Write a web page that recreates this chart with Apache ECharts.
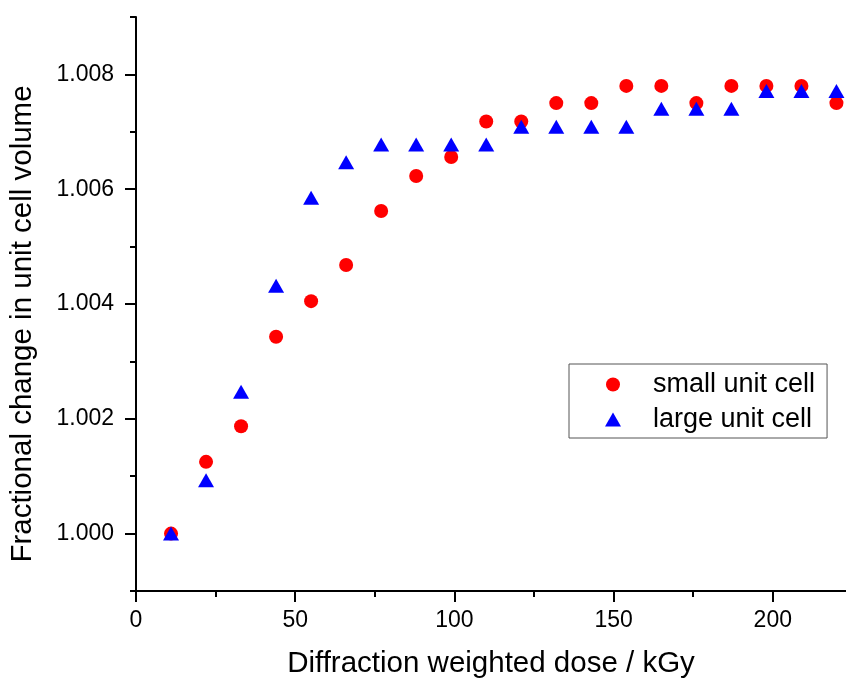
<!DOCTYPE html>
<html>
<head>
<meta charset="utf-8">
<script src="https://cdn.jsdelivr.net/npm/echarts@6/dist/echarts.min.js"></script>
<style>
  html, body { margin: 0; padding: 0; background: #fff; }
  #chart { width: 846px; height: 684px; }
</style>
</head>
<body>
<div id="chart"></div>
<script>
// Diffraction weighted dose (kGy) for each data set
const dose = [11, 22, 33, 44, 55, 66, 77, 88, 99, 110, 121, 132, 143, 154, 165, 176, 187, 198, 209, 220];

// Fractional change in unit cell volume
const smallCell = [1.0000, 1.00125, 1.00187, 1.00343, 1.00405, 1.00468, 1.00562, 1.00623, 1.00656, 1.00718,
                   1.00718, 1.00750, 1.00750, 1.00780, 1.00780, 1.00750, 1.00780, 1.00780, 1.00780, 1.00750];
const largeCell = [1.0000, 1.00093, 1.00247, 1.00432, 1.00585, 1.00647, 1.00678, 1.00678, 1.00678, 1.00678,
                   1.00709, 1.00709, 1.00709, 1.00709, 1.00740, 1.00740, 1.00740, 1.00771, 1.00771, 1.00771];

// Axis ticks
const xMajorTicks = [0, 50, 100, 150, 200];
const xMinorTicks = [25, 75, 125, 175];
const yMajorTicks = [1.000, 1.002, 1.004, 1.006, 1.008];
const yMinorTicks = [0.999, 1.001, 1.003, 1.005, 1.007, 1.009];

const FONT = 'Arial, "Liberation Sans", sans-serif';
const xRange = [0, 223];
const yRange = [0.999, 1.009];

const chart = echarts.init(document.getElementById('chart'), null, { renderer: 'canvas' });

const pair = (xs, ys) => xs.map((x, i) => [x, ys[i]]);

const axisLineStyle = { color: '#000', width: 2 };

chart.setOption({
  backgroundColor: '#fff',
  animation: false,
  grid: { left: 135, right: 0, top: 17, bottom: 90, containLabel: false },
  xAxis: [
    {
      type: 'value', min: xRange[0], max: xRange[1],
      name: 'Diffraction weighted dose / kGy',
      nameLocation: 'middle', nameGap: 58,
      nameTextStyle: { fontFamily: FONT, fontSize: 29.5, color: '#000' },
      axisLine: { show: true, onZero: false, lineStyle: axisLineStyle },
      axisTick: { show: true, inside: false, length: 11, lineStyle: axisLineStyle, customValues: xMajorTicks },
      axisLabel: { show: true, margin: 18, fontFamily: FONT, fontSize: 23, color: '#000', customValues: xMajorTicks },
      splitLine: { show: false }
    },
    {
      type: 'value', min: xRange[0], max: xRange[1], position: 'bottom',
      axisLine: { show: false },
      axisTick: { show: true, inside: false, length: 6, lineStyle: axisLineStyle, customValues: xMinorTicks },
      axisLabel: { show: false },
      splitLine: { show: false }
    }
  ],
  yAxis: [
    {
      type: 'value', min: yRange[0], max: yRange[1],
      name: 'Fractional change in unit cell volume',
      nameLocation: 'middle', nameGap: 98, nameRotate: 90,
      nameTextStyle: { fontFamily: FONT, fontSize: 29.5, color: '#000', padding: [0, 40, 0, 0] },
      axisLine: { show: true, onZero: false, lineStyle: axisLineStyle },
      axisTick: { show: true, inside: false, length: 11, lineStyle: axisLineStyle, customValues: yMajorTicks },
      axisLabel: {
        show: true, margin: 22, fontFamily: FONT, fontSize: 23, color: '#000',
        customValues: yMajorTicks,
        formatter: v => Number(v).toFixed(3)
      },
      splitLine: { show: false }
    },
    {
      type: 'value', min: yRange[0], max: yRange[1], position: 'left',
      axisLine: { show: false },
      axisTick: { show: true, inside: false, length: 6, lineStyle: axisLineStyle, customValues: yMinorTicks },
      axisLabel: { show: false },
      splitLine: { show: false }
    }
  ],
  legend: {
    orient: 'vertical',
    left: 569, top: 364,
    padding: [7, 12, 5, 36],
    itemGap: 8,
    itemWidth: 16, itemHeight: 14,
    symbolKeepAspect: true,
    backgroundColor: '#fff',
    borderColor: '#555', borderWidth: 1,
    textStyle: { fontFamily: FONT, fontSize: 27, color: '#000', padding: [0, 0, 0, 27] },
    data: ['small unit cell', 'large unit cell']
  },
  series: [
    {
      name: 'small unit cell', type: 'scatter',
      xAxisIndex: 0, yAxisIndex: 0,
      symbol: 'circle', symbolSize: 14,
      itemStyle: { color: '#ff0000', opacity: 1 },
      data: pair(dose, smallCell)
    },
    {
      name: 'large unit cell', type: 'scatter',
      xAxisIndex: 0, yAxisIndex: 0,
      symbol: 'triangle', symbolSize: [16, 14],
      itemStyle: { color: '#0000ff', opacity: 1 },
      data: pair(dose, largeCell)
    }
  ]
});
</script>
</body>
</html>
